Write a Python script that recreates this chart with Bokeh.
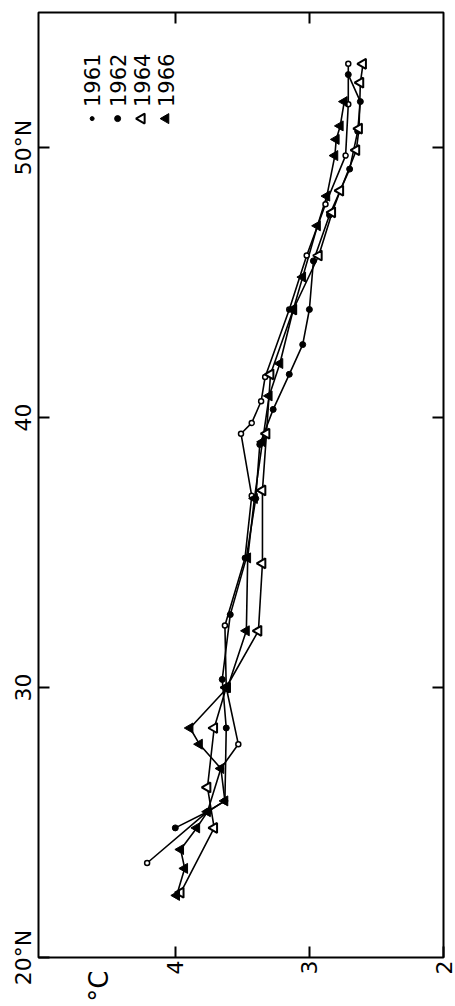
import math
from bokeh.plotting import figure
from bokeh.models import Range1d, LinearAxis, FixedTicker
from bokeh.core.properties import value
from bokeh.embed import file_html
from bokeh.resources import INLINE

# ---- data (latitude °N, temperature °C) ----
lat_1961 = [23.5, 25.4, 27.0, 27.9, 30.0, 32.3, 34.8, 37.1, 39.4, 39.8, 40.6, 41.5, 44.0, 46.0, 47.9, 49.7, 51.6, 53.1]
temp_1961 = [4.21, 3.76, 3.66, 3.53, 3.62, 3.63, 3.48, 3.43, 3.51, 3.43, 3.36, 3.33, 3.15, 3.02, 2.88, 2.73, 2.71, 2.71]

lat_1962 = [24.8, 25.4, 25.8, 28.5, 30.3, 32.7, 34.8, 37.0, 39.0, 40.3, 41.6, 42.7, 44.0, 45.8, 47.5, 49.2, 50.6, 51.7, 52.7]
temp_1962 = [4.00, 3.76, 3.63, 3.62, 3.65, 3.59, 3.47, 3.40, 3.37, 3.27, 3.15, 3.05, 3.00, 2.97, 2.85, 2.70, 2.64, 2.62, 2.71]

lat_1964 = [22.4, 24.8, 26.3, 28.5, 30.0, 32.1, 34.6, 37.3, 39.4, 41.6, 44.0, 46.0, 47.6, 48.4, 49.9, 50.7, 52.4, 53.1]
temp_1964 = [3.96, 3.71, 3.76, 3.71, 3.62, 3.38, 3.35, 3.35, 3.32, 3.29, 3.12, 2.93, 2.83, 2.77, 2.65, 2.63, 2.62, 2.60]

lat_1966 = [22.3, 23.3, 24.0, 24.8, 25.4, 25.8, 27.0, 27.9, 28.5, 30.0, 32.1, 34.8, 37.0, 39.1, 40.8, 42.0, 44.0, 45.2, 47.1, 48.2, 49.7, 50.3, 50.8, 51.7]
temp_1966 = [3.99, 3.93, 3.96, 3.84, 3.76, 3.63, 3.66, 3.82, 3.89, 3.61, 3.47, 3.46, 3.41, 3.35, 3.30, 3.22, 3.12, 3.05, 2.94, 2.87, 2.81, 2.80, 2.77, 2.74]

years = ["1961", "1962", "1964", "1966"]
lat_ticks = [20, 30, 40, 50]
lat_labels = ["20°N", "30", "40", "50°N"]
temp_ticks = [2, 3, 4]
temp_labels = ["2", "3", "4"]
unit_label = "°C"
unit_pos = 4.57

# ---- styling / layout constants ----
FONT = "DejaVu Sans"
ROT = math.pi / 2

p = figure(width=455, height=1006, x_range=Range1d(5.02, 2.0), y_range=Range1d(20, 55),
           output_backend="svg", toolbar_location=None,
           x_axis_location=None, y_axis_location=None,
           min_border_left=38, min_border_right=12, min_border_top=12, min_border_bottom=49)
p.grid.visible = False
p.outline_line_color = "black"
p.outline_line_width = 2
p.background_fill_color = "white"
p.border_fill_color = "white"

def make_axis(ticks, labels, show_labels, show_ticks=True, font_size="22px", standoff=3, orient="vertical"):
    ax = LinearAxis(ticker=FixedTicker(ticks=ticks))
    ax.major_label_overrides = {t: l for t, l in zip(ticks, labels)}
    ax.axis_line_color = None
    ax.major_tick_in = 11 if show_ticks else 0
    ax.major_tick_out = 0
    ax.major_tick_line_width = 2
    if not show_ticks:
        ax.major_tick_line_color = None
    ax.minor_tick_line_color = None
    ax.major_label_text_font = FONT
    if show_labels:
        ax.major_label_text_color = "black"
        ax.major_label_text_font_size = font_size
        ax.major_label_orientation = orient
        ax.major_label_standoff = standoff
    else:
        ax.major_label_text_color = None
        ax.major_label_text_font_size = "1px"
        ax.major_label_standoff = 0
    return ax

# left axis: "vertical" reads bottom-to-top there
p.add_layout(make_axis(lat_ticks, lat_labels, True), "left")
# bottom: inward ticks (closest to frame), then the numbers, then the unit; read bottom-to-top
p.add_layout(make_axis(temp_ticks, temp_labels, False), "below")
p.add_layout(make_axis(temp_ticks, temp_labels, True, show_ticks=False, orient=ROT), "below")
p.add_layout(make_axis([unit_pos], [unit_label], True, show_ticks=False, font_size="26px",
                       standoff=-7, orient=ROT), "below")
p.add_layout(make_axis([30, 40, 50], ["", "", ""], False), "right")
p.add_layout(make_axis([3, 4], ["", ""], False), "above")

# ---- series ----
LW = 1.6
p.line(temp_1961, lat_1961, line_color="black", line_width=LW)
p.line(temp_1962, lat_1962, line_color="black", line_width=LW)
p.line(temp_1964, lat_1964, line_color="black", line_width=LW)
p.line(temp_1966, lat_1966, line_color="black", line_width=LW)

p.scatter(temp_1961, lat_1961, marker="circle", size=5, fill_color="white", line_color="black", line_width=1.5)
p.scatter(temp_1962, lat_1962, marker="circle", size=6, fill_color="black", line_color="black")
p.scatter(temp_1964, lat_1964, marker="triangle", size=10, angle=ROT, fill_color="white", line_color="black", line_width=2)
p.scatter(temp_1966, lat_1966, marker="triangle", size=10, angle=ROT, fill_color="black", line_color="black")

# ---- legend (rotated, drawn as glyphs) ----
leg_t = [4.62, 4.43, 4.25, 4.07]
leg_marker_lat = 51.07
leg_text_lat = 51.5
p.scatter([leg_t[0]], [leg_marker_lat], marker="circle", size=4, fill_color="black", line_color="black")
p.scatter([leg_t[1]], [leg_marker_lat], marker="circle", size=6, fill_color="black", line_color="black")
p.scatter([leg_t[2]], [leg_marker_lat], marker="triangle", size=10, angle=ROT, fill_color="white", line_color="black", line_width=2)
p.scatter([leg_t[3]], [leg_marker_lat], marker="triangle", size=10, angle=ROT, fill_color="black", line_color="black")
p.text(leg_t, [leg_text_lat] * 4, text=years, angle=ROT, text_align="left", text_baseline="middle",
       text_font=value(FONT), text_font_size="21px", text_color="black")

open("out.html", "w").write(file_html(p, INLINE))
